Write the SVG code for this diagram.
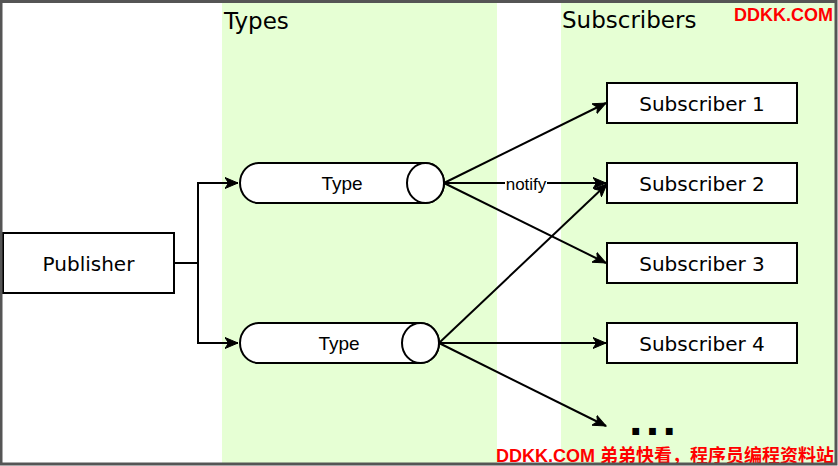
<svg xmlns="http://www.w3.org/2000/svg" width="838" height="466" viewBox="0 0 838 466">
<style>
.lane{fill:#e6ffd4;stroke:none}
.box{fill:#ffffff;stroke:#000;stroke-width:2}
.cyl{fill:#ffffff;stroke:#000;stroke-width:2}
.t20{font-family:"DejaVu Sans",Verdana,sans-serif;font-size:20px;fill:#000;text-anchor:middle}
.title{font-family:"DejaVu Sans",Verdana,sans-serif;font-size:23px;fill:#000}
.arial{font-family:"Liberation Sans",Arial,sans-serif;fill:#000;text-anchor:middle}
.edge{fill:none;stroke:#000;stroke-width:2}
.wm{font-family:"Liberation Sans","Noto Sans CJK SC",sans-serif;font-weight:bold;font-size:18px;fill:#ff0000}
</style>
<defs>
<marker id="arr" markerUnits="userSpaceOnUse" markerWidth="14" markerHeight="12" viewBox="0 0 14 12" refX="13" refY="6" orient="auto">
<path d="M0,0.5 L13,6 L0,11.5 L3.5,6 Z" fill="#000" stroke="#000" stroke-width="1"/>
</marker>
</defs>
<rect x="0" y="0" width="838" height="466" fill="#ffffff"/>
<g id="lanes">
<rect class="lane" x="222" y="3" width="275" height="460"/>
<rect class="lane" x="561" y="3" width="274" height="460"/>
<text class="title" x="224" y="29">Types</text>
<text class="title" x="562" y="28">Subscribers</text>
</g>
<g id="connectors">
<path class="edge" d="M174,263 H198 V183 H238" marker-end="url(#arr)"/>
<path class="edge" d="M198,263 V343 H238" marker-end="url(#arr)"/>
<path class="edge" d="M444,183 L606,103" marker-end="url(#arr)"/>
<path class="edge" d="M444,183 L606,183" marker-end="url(#arr)"/>
<path class="edge" d="M444,183 L606,263" marker-end="url(#arr)"/>
<path class="edge" d="M439,343 L607,184" marker-end="url(#arr)"/>
<path class="edge" d="M439,343 L606,343" marker-end="url(#arr)"/>
<path class="edge" d="M439,343 L606,426" marker-end="url(#arr)"/>
<rect x="505" y="174" width="42" height="19" fill="#ffffff"/>
<text class="arial" x="526" y="190" font-size="17">notify</text>
</g>
<g id="publisher">
<rect class="box" x="3" y="233" width="171" height="60"/>
<text class="t20" x="88.5" y="271">Publisher</text>
</g>
<g id="type1">
<path class="cyl" d="M258.5,163 H425.5 A18.5,20 0 0 1 425.5,203 H258.5 A18.5,20 0 0 1 258.5,163 Z"/>
<ellipse class="cyl" cx="425.5" cy="183" rx="18.5" ry="20"/>
<text class="arial" x="342" y="190" font-size="19">Type</text>
</g>
<g id="type2">
<path class="cyl" d="M258.5,323 H420.5 A18.5,20 0 0 1 420.5,363 H258.5 A18.5,20 0 0 1 258.5,323 Z"/>
<ellipse class="cyl" cx="420.5" cy="343" rx="18.5" ry="20"/>
<text class="arial" x="339" y="350" font-size="19">Type</text>
</g>
<g id="sub1">
<rect class="box" x="607" y="83" width="190" height="40"/>
<text class="t20" x="702" y="111">Subscriber 1</text>
</g>
<g id="sub2">
<rect class="box" x="607" y="163" width="190" height="40"/>
<text class="t20" x="702" y="191">Subscriber 2</text>
</g>
<g id="sub3">
<rect class="box" x="607" y="243" width="190" height="40"/>
<text class="t20" x="702" y="271">Subscriber 3</text>
</g>
<g id="sub4">
<rect class="box" x="607" y="323" width="190" height="40"/>
<text class="t20" x="702" y="351">Subscriber 4</text>
</g>
<g id="more">
<text x="628.6" y="435" font-family="'DejaVu Sans',Verdana,sans-serif" font-weight="bold" font-size="38" letter-spacing="2.3" fill="#000">...</text>
</g>
<g id="watermark">
<text class="wm" x="734" y="21">DDKK.COM</text>
<text class="wm" x="496" y="462">DDKK.COM 弟弟快看，程序员编程资料站</text>
</g>
<rect x="1" y="1.5" width="835" height="462.5" fill="none" stroke="#555" stroke-width="3"/>
</svg>
